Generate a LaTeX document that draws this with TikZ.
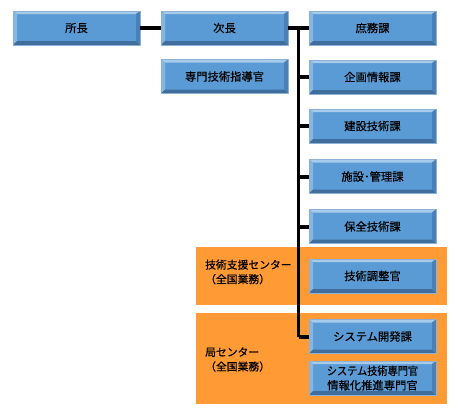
\documentclass[tikz,border=0pt]{standalone}
\usepackage{fontspec}
\newfontfamily\cjk[FakeBold=0.6]{Noto Sans CJK JP}
\definecolor{boxmid}{HTML}{5B9BD5}
\definecolor{boxlight}{HTML}{A9CBEA}
\definecolor{boxleft}{HTML}{86B6E2}
\definecolor{boxdark}{HTML}{3F6E9C}
\definecolor{boxright}{HTML}{4A80B5}
\definecolor{boxline}{HTML}{8DB0D6}
\definecolor{orangebg}{HTML}{FF9A35}
\tikzset{
  bev/.style={minimum width=127pt, minimum height=34pt, inner sep=0pt,
    fill=boxmid, draw=boxline, line width=0.5pt,
    font=\cjk\fontsize{11.3}{13}\selectfont, text=black, align=center,
    path picture={
      \coordinate (nw) at (path picture bounding box.north west);
      \coordinate (ne) at (path picture bounding box.north east);
      \coordinate (sw) at (path picture bounding box.south west);
      \coordinate (se) at (path picture bounding box.south east);
      \fill[boxlight] (nw) -- (ne) -- ([shift={(-4pt,-3pt)}]ne) -- ([shift={(4pt,-3pt)}]nw) -- cycle;
      \fill[boxleft] (nw) -- ([shift={(4pt,-3pt)}]nw) -- ([shift={(4pt,4pt)}]sw) -- (sw) -- cycle;
      \fill[boxdark] (sw) -- (se) -- ([shift={(-4pt,4pt)}]se) -- ([shift={(4pt,4pt)}]sw) -- cycle;
      \fill[boxright] (ne) -- (se) -- ([shift={(-4pt,4pt)}]se) -- ([shift={(-4pt,-3pt)}]ne) -- cycle;
    }},
  thickline/.style={line width=4pt, black},
  vline/.style={line width=3pt, black},
  olabel/.style={font=\cjk\fontsize{10.8}{14.5}\selectfont, anchor=west, align=left, inner sep=0pt}
}
\begin{document}
\begin{tikzpicture}[x=1pt,y=-1pt]
\useasboundingbox (0,0) rectangle (460,418);
% orange areas
\fill[orangebg] (196,247) rectangle (447,305);
\fill[orangebg] (196,313) rectangle (447,404);
\node[olabel] (lab1) at (205,272) {技術支援センター\\（全国業務）};
\node[olabel] (lab2) at (205,359.5) {局センター\\（全国業務）};
% boxes
\node[bev] (shocho) at (76.5,28) {所長};
\node[bev] (jicho) at (224.5,28) {次長};
\node[bev] (shomu) at (372.5,28) {庶務課};
\node[bev] (senmon) at (224.5,76.5) {専門技術指導官};
\node[bev] (kikaku) at (372.5,77) {企画情報課};
\node[bev] (kensetsu) at (372.5,126) {建設技術課};
\node[bev] (shisetsu) at (372.5,176.5) {施設･管理課};
\node[bev] (hozen) at (372.5,226.5) {保全技術課};
\node[bev] (chosei) at (372.5,276) {技術調整官};
\node[bev] (system) at (372.5,336.5) {システム開発課};
\node[bev, font=\cjk\fontsize{11.3}{14.5}\selectfont] (senmon2) at (372.5,378) {\scalebox{0.9}[1]{システム技術専門官}\\情報化推進専門官};
% connectors
\coordinate (vtop) at (298.5,28);
\coordinate (vbot) at (298.5,336.5);
\draw[thickline] (shocho.east) -- (jicho.west);
\draw[thickline] (jicho.east) -- (shomu.west);
\draw[vline] (vtop) -- (vbot);
\draw[thickline] (vbot) -- (system.west);
\foreach \n in {kikaku,kensetsu,shisetsu,hozen}
  \draw[thickline] (vtop |- \n.west) -- (\n.west);
\end{tikzpicture}
\end{document}
